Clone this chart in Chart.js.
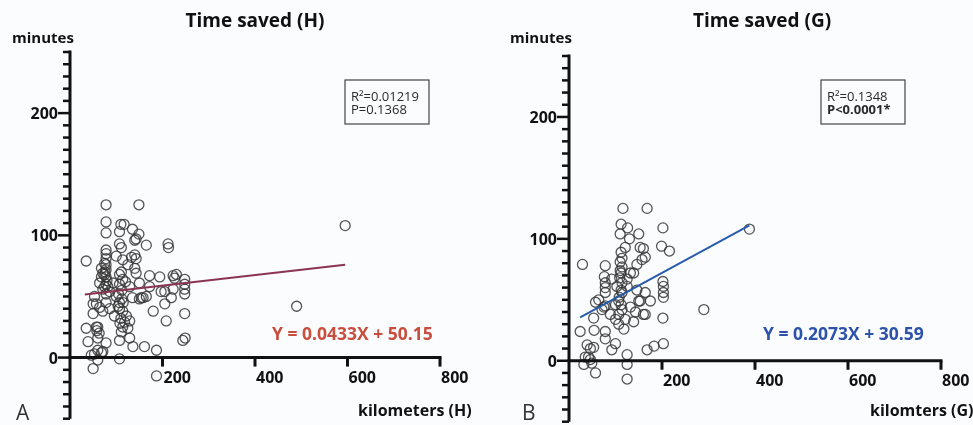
<!DOCTYPE html>
<html lang="en">
<head>
<meta charset="utf-8">
<title>Time saved vs distance</title>
<script src="https://cdn.jsdelivr.net/npm/chart.js@4.4.0/dist/chart.umd.min.js"></script>
<style>
  html, body { margin: 0; padding: 0; background: #fbfcfe; overflow: hidden; }
  #wrap { position: relative; width: 973px; height: 425px; }
  canvas { position: absolute; top: 0; }
  #chartH { left: 0; }
  #chartG { left: 486px; }
</style>
</head>
<body>
<div id="wrap">
  <canvas id="chartH" width="486" height="425"></canvas>
  <canvas id="chartG" width="487" height="428"></canvas>
</div>
<script>
// --- data (distance in km, time saved in minutes) ---
const kmH  = [78,149,78,110,117,78,107,135,149,143,140,165,212,213,111,107,78,78,100,35,
              78,75,78,68,114,133,140,143,125,140,143,111,107,78,71,68,78,64,75,71,
              86,78,93,107,114,129,150,172,194,197,205,223,230,223,219,248,248,248,248,248,
              244,249,205,208,180,158,150,53,57,64,50,60,58,63,60,35,39,78,46,60,
              68,50,107,107,129,136,161,187,187,96,107,114,122,118,114,125,111,107,104,100,
              78,86,57,129,135,172,226,595,490,78,80,76,82,75,108,110,112,105,115,112,
              120,53,71,60,50,71,154,165];
const minH = [125,125,111,109,109,102,103,105,101,97,96,92,93,90,90,93,88,85,83,79,
              81,77,76,73,80,82,84,81,76,73,69,70,68,72,69,66,66,61,58,56,
              54,52,61,60,64,58,61,58,66,54,54,67,68,56,49,64,60,56,52,36,
              14,16,44,30,38,49,48,50,44,41,36,25,22,20,16,24,13,12,2,6,
              4,-9,-1,14,16,9,9,6,-15,34,40,38,34,29,25,24,21,45,42,50,
              45,40,25,30,49,67,65,108,42,60,63,70,58,68,28,32,48,52,45,55,
              62,3,5,-2,44,38,49,50];

const kmG  = [116,168,112,126,110,130,150,202,199,216,153,160,164,157,112,110,114,112,109,114,
              125,139,146,78,29,78,78,78,76,92,64,57,78,100,107,114,114,107,121,132,
              143,153,164,164,175,202,203,203,203,202,203,183,168,290,388,53,54,24,78,78,
              39,53,35,46,32,57,92,100,125,125,125,107,118,139,100,89,71,146,132,121,
              125,103,112,110,114,108,112,46,42,49,160,150,75];
const minG = [125,125,112,109,104,100,104,109,94,90,93,92,85,83,89,81,77,72,68,64,
              67,72,79,78,79,64,60,56,69,67,50,48,45,46,49,56,42,38,34,44,
              40,49,56,38,49,65,61,56,52,35,14,12,9,42,108,35,25,24,24,18,
              13,11,3,1,-3,-10,9,14,5,-3,-15,30,26,32,34,38,42,58,72,93,
              61,61,58,74,84,52,46,10,3,-2,38,49,44];

// regression lines as reported on each panel
const fitH = { slope: 0.0433, intercept: 50.15, from: 32, to: 595 };
const fitG = { slope: 0.2073, intercept: 30.59, from: 24, to: 388 };

// axis ticks
const xTickLabels = [200, 400, 600, 800];
const yTickLabels = [0, 100, 200];
const yMinorStep = 10;
const xRange = [0, 800];
const yRange = [-50, 250];

function toPoints(xs, ys) {
  return xs.map((v, i) => ({ x: v, y: ys[i] }));
}
function fitPoints(f) {
  return [f.from, f.to].map(v => ({ x: v, y: f.intercept + f.slope * v }));
}

// axes drawn GraphPad-style: y axis with minor ticks, x axis sitting on y = 0
const panelAxes = {
  id: 'panelAxes',
  afterDraw(chart, args, o) {
    const ctx = chart.ctx;
    const xs = chart.scales.x, ys = chart.scales.y;
    const x0 = xs.getPixelForValue(0), y0 = ys.getPixelForValue(0);
    ctx.save();
    ctx.strokeStyle = '#111';
    ctx.fillStyle = '#111';
    ctx.lineWidth = 3;
    ctx.beginPath();
    ctx.moveTo(x0, ys.getPixelForValue(yRange[1]) - 1.5);
    ctx.lineTo(x0, ys.getPixelForValue(yRange[0]));
    ctx.stroke();
    ctx.beginPath();
    ctx.moveTo(x0 - 1.5, y0);
    ctx.lineTo(xs.getPixelForValue(xRange[1]) + 1.5, y0);
    ctx.stroke();

    ctx.lineWidth = 2.5;
    for (let v = yRange[0]; v <= yRange[1]; v += yMinorStep) {
      const py = ys.getPixelForValue(v);
      const len = yTickLabels.includes(v) ? 12 : 7;
      ctx.beginPath();
      ctx.moveTo(x0 - len, py);
      ctx.lineTo(x0, py);
      ctx.stroke();
    }
    ctx.lineWidth = 3;
    xTickLabels.forEach(v => {
      const px = xs.getPixelForValue(v);
      ctx.beginPath();
      ctx.moveTo(px, y0);
      ctx.lineTo(px, y0 + 9);
      ctx.stroke();
    });

    ctx.font = 'bold 16px "Open Sans"';
    ctx.textAlign = 'right';
    ctx.textBaseline = 'alphabetic';
    yTickLabels.forEach(v => ctx.fillText(String(v), x0 - 12, ys.getPixelForValue(v) + 6));
    ctx.textAlign = 'left';
    xTickLabels.forEach(v => ctx.fillText(String(v), xs.getPixelForValue(v) + 1, y0 + 25));

    // titles and labels
    ctx.font = 'bold 19px "Open Sans"';
    ctx.textAlign = 'center';
    ctx.fillText(o.title, o.titleX, 26.5);
    ctx.textAlign = 'left';
    ctx.font = 'bold 15px "Open Sans"';
    ctx.fillText('minutes', o.minutesX, 43);
    ctx.font = 'bold 16px "Open Sans"';
    ctx.fillText(o.xTitle, o.xTitleX, 416);
    ctx.font = '21px "Open Sans"';
    ctx.fillStyle = '#333';
    ctx.fillText(o.letter, o.letterX, 420);

    // statistics box
    ctx.strokeStyle = '#444';
    ctx.lineWidth = 1.2;
    ctx.strokeRect(o.box[0], o.box[1], o.box[2], o.box[3]);
    ctx.fillStyle = '#2a2a2a';
    ctx.font = '13px "Open Sans"';
    ctx.fillText(o.r2, o.box[0] + 6, o.box[1] + 21);
    ctx.font = (o.pBold ? 'bold ' : '') + '13px "Open Sans"';
    ctx.fillText(o.p, o.box[0] + 6, o.box[1] + 34);

    // regression equation
    ctx.font = 'bold 17.5px "Open Sans"';
    ctx.fillStyle = o.eqColor;
    ctx.fillText(o.equation, o.eqX, 339.5);
    ctx.restore();
  }
};

function makeChart(id, kms, mins, fit, lineColor, pad, deco) {
  return new Chart(document.getElementById(id), {
    data: {
      datasets: [
        {
          type: 'line',
          data: fitPoints(fit),
          borderColor: lineColor,
          borderWidth: 2,
          pointRadius: 0,
          order: 0
        },
        {
          type: 'scatter',
          data: toPoints(kms, mins),
          pointStyle: 'circle',
          pointRadius: 5,
          borderWidth: 1.3,
          borderColor: 'rgba(55,55,55,0.85)',
          backgroundColor: 'rgba(0,0,0,0)',
          clip: false,
          order: 1
        }
      ]
    },
    options: {
      responsive: false,
      devicePixelRatio: 1,
      animation: false,
      events: [],
      layout: { padding: pad },
      scales: {
        x: { type: 'linear', min: xRange[0], max: xRange[1], display: false },
        y: { type: 'linear', min: yRange[0], max: yRange[1], display: false }
      },
      plugins: {
        legend: { display: false },
        tooltip: { enabled: false },
        panelAxes: deco
      }
    },
    plugins: [panelAxes]
  });
}

makeChart('chartH', kmH, minH, fitH, 'rgb(138,52,82)',
  { left: 70, right: 46, top: 52, bottom: 0 },
  {
    title: 'Time saved (H)', titleX: 255, minutesX: 12,
    xTitle: 'kilometers (H)', xTitleX: 358, letter: 'A', letterX: 16,
    box: [345, 80, 84, 44], r2: 'R\u00b2=0.01219', p: 'P=0.1368', pBold: false,
    equation: 'Y = 0.0433X + 50.15', eqX: 272, eqColor: 'rgb(200,78,62)'
  });

makeChart('chartG', kmG, minG, fitG, 'rgb(40,92,170)',
  { left: 83, right: 32, top: 56, bottom: 0 },
  {
    title: 'Time saved (G)', titleX: 276, minutesX: 24,
    xTitle: 'kilomters (G)', xTitleX: 384, letter: 'B', letterX: 36,
    box: [335, 80, 84, 44], r2: 'R\u00b2=0.1348', p: 'P<0.0001*', pBold: true,
    equation: 'Y = 0.2073X + 30.59', eqX: 277, eqColor: 'rgb(44,82,170)'
  });
</script>
</body>
</html>
